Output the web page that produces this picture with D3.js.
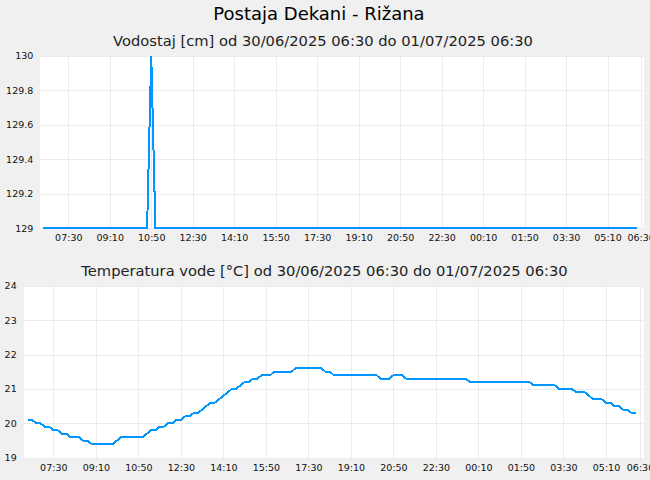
<!DOCTYPE html>
<html>
<head>
<meta charset="utf-8">
<script src="https://cdn.jsdelivr.net/npm/d3@7"></script>
<style>
  html, body { margin: 0; padding: 0; background: #f0f0f0; }
  svg { display: block; font-family: "DejaVu Sans", sans-serif; }
</style>
</head>
<body>
<svg width="650" height="480"></svg>
<script>
const svgWidth = 650;
const svgHeight = 480;

const title = "Postaja Dekani - Rižana";
const levelTitle = "Vodostaj [cm] od 30/06/2025 06:30 do 01/07/2025 06:30";
const tempTitle = "Temperatura vode [°C] od 30/06/2025 06:30 do 01/07/2025 06:30";

// samples every 10 minutes starting 30/06/2025 06:30
const startTime = new Date(2025, 5, 30, 6, 30);
const endTime = new Date(2025, 6, 1, 6, 30);
const stepMinutes = 10;

const tickLabels = ["07:30", "09:10", "10:50", "12:30", "14:10", "15:50", "17:30",
                    "19:10", "20:50", "22:30", "00:10", "01:50", "03:30", "05:10", "06:30"];

const levelTicks = [129, 129.2, 129.4, 129.6, 129.8, 130];
const tempTicks = [19, 20, 21, 22, 23, 24];

// vodostaj [cm]
const levelValues = [
  129, 129, 129, 129, 129, 129, 129, 129, 129, 129, 129, 129,
  129, 129, 129, 129, 129, 129, 129, 129, 129, 129, 129, 129,
  129, 129, 130, 129, 129, 129, 129, 129, 129, 129, 129, 129,
  129, 129, 129, 129, 129, 129, 129, 129, 129, 129, 129, 129,
  129, 129, 129, 129, 129, 129, 129, 129, 129, 129, 129, 129,
  129, 129, 129, 129, 129, 129, 129, 129, 129, 129, 129, 129,
  129, 129, 129, 129, 129, 129, 129, 129, 129, 129, 129, 129,
  129, 129, 129, 129, 129, 129, 129, 129, 129, 129, 129, 129,
  129, 129, 129, 129, 129, 129, 129, 129, 129, 129, 129, 129,
  129, 129, 129, 129, 129, 129, 129, 129, 129, 129, 129, 129,
  129, 129, 129, 129, 129, 129, 129, 129, 129, 129, 129, 129,
  129, 129, 129, 129, 129, 129, 129, 129, 129, 129, 129, 129
];

// temperatura vode [°C]
const tempValues = [
  20.1, 20.1, 20.0, 20.0, 19.9, 19.9, 19.8, 19.8, 19.7, 19.7, 19.6, 19.6,
  19.6, 19.5, 19.5, 19.4, 19.4, 19.4, 19.4, 19.4, 19.4, 19.5, 19.6, 19.6,
  19.6, 19.6, 19.6, 19.6, 19.7, 19.8, 19.8, 19.9, 19.9, 20.0, 20.0, 20.1,
  20.1, 20.2, 20.2, 20.3, 20.3, 20.4, 20.5, 20.6, 20.6, 20.7, 20.8, 20.9,
  21.0, 21.0, 21.1, 21.2, 21.2, 21.3, 21.3, 21.4, 21.4, 21.4, 21.5, 21.5,
  21.5, 21.5, 21.5, 21.6, 21.6, 21.6, 21.6, 21.6, 21.6, 21.6, 21.5, 21.5,
  21.4, 21.4, 21.4, 21.4, 21.4, 21.4, 21.4, 21.4, 21.4, 21.4, 21.4, 21.3,
  21.3, 21.3, 21.4, 21.4, 21.4, 21.3, 21.3, 21.3, 21.3, 21.3, 21.3, 21.3,
  21.3, 21.3, 21.3, 21.3, 21.3, 21.3, 21.3, 21.3, 21.2, 21.2, 21.2, 21.2,
  21.2, 21.2, 21.2, 21.2, 21.2, 21.2, 21.2, 21.2, 21.2, 21.2, 21.2, 21.1,
  21.1, 21.1, 21.1, 21.1, 21.1, 21.0, 21.0, 21.0, 21.0, 20.9, 20.9, 20.9,
  20.8, 20.7, 20.7, 20.7, 20.6, 20.6, 20.5, 20.5, 20.4, 20.4, 20.3, 20.3
];

const lineColor = "#0096ff";
const gridColor = "#ebebeb";

// turn "HH:MM" labels into dates, rolling over to the next day
function tickDates(labels) {
  let day = new Date(startTime);
  let prev = -1;
  return labels.map(s => {
    const [h, m] = s.split(":").map(Number);
    if (h * 60 + m < prev) day = d3.timeDay.offset(day, 1);
    prev = h * 60 + m;
    return new Date(day.getFullYear(), day.getMonth(), day.getDate(), h, m);
  });
}

const xTicks = tickDates(tickLabels);
const timeFmt = d3.timeFormat("%H:%M");

const svg = d3.select("svg")
  .attr("width", svgWidth)
  .attr("height", svgHeight);

svg.append("rect")
  .attr("width", svgWidth)
  .attr("height", svgHeight)
  .attr("fill", "#f0f0f0");

function drawPanel(p) {
  const data = p.values.map((v, i) => ({
    t: d3.timeMinute.offset(startTime, i * stepMinutes),
    v: v
  }));

  const x = d3.scaleTime()
    .domain([startTime, endTime])
    .range([p.x0, p.x1]);
  const y = d3.scaleLinear()
    .domain(d3.extent(p.ticks))
    .range([p.bottom, p.top]);

  const g = svg.append("g");

  g.append("rect")
    .attr("x", p.left)
    .attr("y", p.top)
    .attr("width", p.right - p.left)
    .attr("height", p.rectBottom - p.top)
    .attr("fill", "#fff");

  // grid
  g.append("g")
    .selectAll("line.v")
    .data(xTicks)
    .join("line")
    .attr("x1", d => Math.round(x(d)) + 0.5)
    .attr("x2", d => Math.round(x(d)) + 0.5)
    .attr("y1", p.top)
    .attr("y2", p.rectBottom)
    .attr("stroke", gridColor);

  g.append("g")
    .selectAll("line.h")
    .data(p.ticks)
    .join("line")
    .attr("x1", p.left)
    .attr("x2", p.right)
    .attr("y1", d => Math.round(y(d)) + 0.5)
    .attr("y2", d => Math.round(y(d)) + 0.5)
    .attr("stroke", gridColor);

  // axes (labels only)
  const xAxis = g.append("g")
    .attr("transform", `translate(0,${p.rectBottom})`)
    .call(d3.axisBottom(x).tickValues(xTicks).tickFormat(timeFmt).tickSize(0).tickPadding(p.xPad));
  const yAxis = g.append("g")
    .attr("transform", `translate(${p.left},0)`)
    .call(d3.axisLeft(y).tickValues(p.ticks).tickFormat(d => String(+d.toFixed(1))).tickSize(0).tickPadding(p.yPad));

  [xAxis, yAxis].forEach(a => {
    a.select(".domain").remove();
    a.selectAll("text")
      .attr("fill", "#111")
      .style("font-size", "9.5px")
      .style("font-family", "DejaVu Sans");
  });

  const line = d3.line()
    .x(d => x(d.t))
    .y(d => y(d.v));

  g.append("path")
    .datum(data)
    .attr("d", line)
    .attr("fill", "none")
    .attr("stroke", lineColor)
    .attr("stroke-width", 2)
    .attr("shape-rendering", "crispEdges");

  svg.append("text")
    .attr("x", p.titleX)
    .attr("y", p.titleY)
    .attr("text-anchor", "middle")
    .attr("fill", "#222")
    .style("font-size", "14.7px")
    .text(p.title);
}

svg.append("text")
  .attr("x", 319)
  .attr("y", 19.5)
  .attr("text-anchor", "middle")
  .attr("fill", "#000")
  .style("font-size", "18px")
  .text(title);

drawPanel({
  values: levelValues, ticks: levelTicks, title: levelTitle,
  left: 40, right: 644, top: 55.7, bottom: 228, rectBottom: 229,
  x0: 43.4, x1: 640.7, xPad: 5.5, yPad: 6.7,
  titleX: 323, titleY: 45.5
});

drawPanel({
  values: tempValues, ticks: tempTicks, title: tempTitle,
  left: 24, right: 644, top: 285.7, bottom: 457.7, rectBottom: 458,
  x0: 27.8, x1: 640, xPad: 6.3, yPad: 7.3,
  titleX: 324.5, titleY: 276
});
</script>
</body>
</html>
